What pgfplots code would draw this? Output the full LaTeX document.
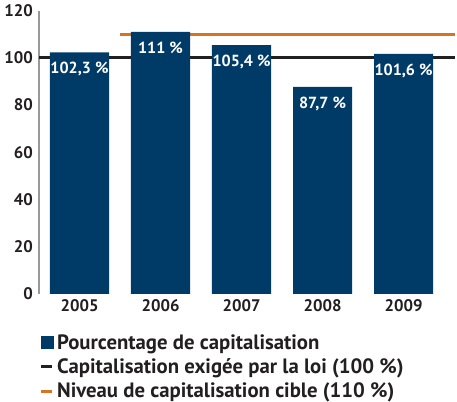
\documentclass[border=0pt]{standalone}
\usepackage{fontspec}
\setmainfont{PT Sans}
\usepackage{pgfplots}
\pgfplotsset{compat=1.18}
\definecolor{barblue}{HTML}{003B68}
\definecolor{lawblack}{HTML}{231F20}
\definecolor{targetorange}{HTML}{D9731E}
\definecolor{txt}{HTML}{231F20}
\begin{document}
\begin{tikzpicture}
\begin{axis}[
  scale only axis,
  width=311pt, height=211.5pt,
  xmin=-0.5, xmax=4.64,
  ymin=0, ymax=120,
  axis x line*=bottom, axis y line*=left,
  x axis line style={draw=none},
  y axis line style={-, draw=gray!80, line width=1pt},
  major tick length=0pt,
  xtick={0,1,2,3,4},
  xticklabels={2005,2006,2007,2008,2009},
  ytick={0,20,40,60,80,100,120},
  tick label style={font=\bfseries\fontsize{12.5}{14}\selectfont, text=txt},
  /pgf/number format/assume math mode=true,
  yticklabel style={xshift=-1pt},
  xticklabel style={yshift=-1pt},
  clip=false,
  legend style={at={(0,-0.135)}, anchor=north west, draw=none, fill=none,
    font=\bfseries\fontsize{15.5}{17}\selectfont, text=txt,
    row sep=2.5pt, inner sep=0pt, nodes={inner xsep=3pt, inner ysep=1.5pt},
    cells={anchor=west}},
  legend cell align=left,
]
% lines behind the bars
\addplot[lawblack, line width=2.3pt, forget plot] coordinates {(-0.5,100) (4.64,100)};
\addplot[targetorange, line width=2.3pt, forget plot] coordinates {(0.5,110) (4.64,110)};
\addplot[ybar, bar width=0.73, fill=barblue, draw=none, forget plot,
  point meta=explicit symbolic,
  nodes near coords,
  every node near coord/.append style={anchor=north, yshift=-4pt, text=white,
    font=\bfseries\fontsize{12}{14}\selectfont}]
coordinates {
(0,102.3) [102,3 \%]
(1,111) [111 \%]
(2,105.4) [105,4 \%]
(3,87.7) [87,7 \%]
(4,101.6) [101,6 \%]
};
\addlegendimage{legend image code/.code={\fill[barblue] (0pt,-4.5pt) rectangle (9pt,4.5pt);}}
\addlegendentry{\textbf{Pourcentage de capitalisation}}
\addlegendimage{legend image code/.code={\draw[lawblack, line width=2.3pt] (0pt,0pt) -- (8pt,0pt);}}
\addlegendentry{\textbf{Capitalisation exigée par la loi (100 \%)}}
\addlegendimage{legend image code/.code={\draw[targetorange, line width=2.3pt] (0pt,0pt) -- (8pt,0pt);}}
\addlegendentry{\textbf{Niveau de capitalisation cible (110 \%)}}
\end{axis}
\end{tikzpicture}
\end{document}
